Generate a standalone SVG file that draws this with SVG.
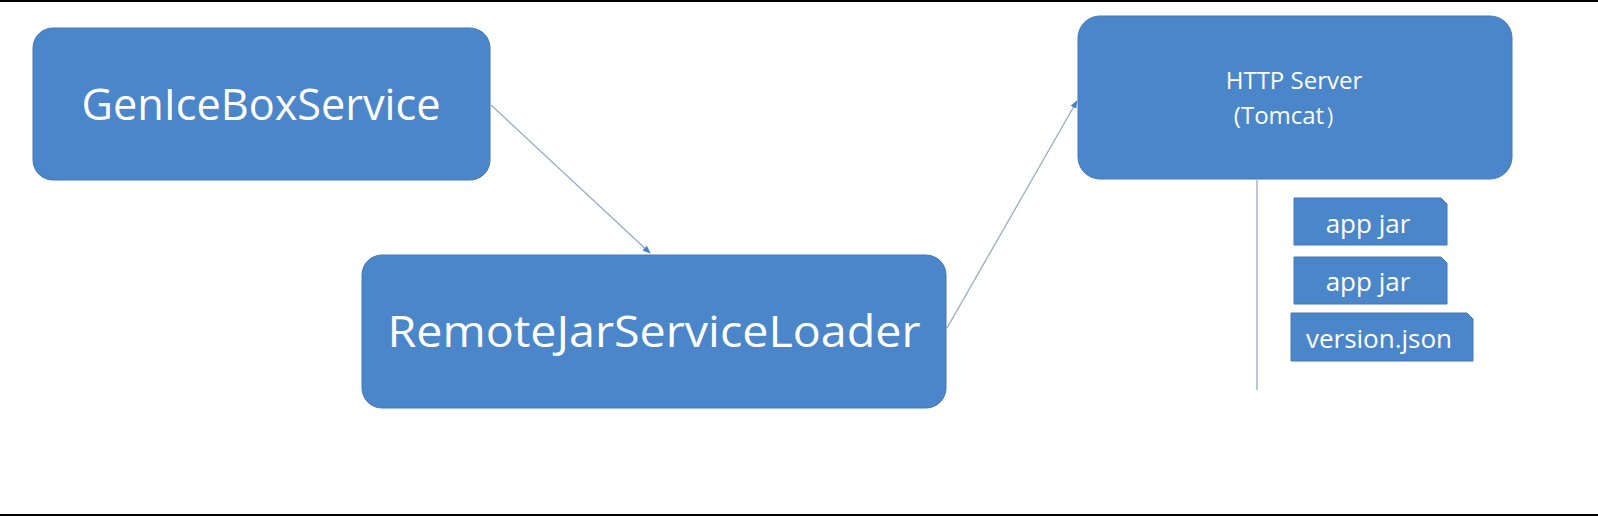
<svg xmlns="http://www.w3.org/2000/svg" width="1598" height="516" viewBox="0 0 1598 516">
<defs>
<style>
.box{fill:#4a86c9;stroke:#4479b8;stroke-width:1}
.file{fill:#4a86c9;stroke:#4479b8;stroke-width:1}
.big{font-family:"Open Sans",sans-serif;font-size:43px;fill:#ffffff;text-anchor:middle}
.mid{font-family:"Open Sans",sans-serif;font-size:24px;fill:#ffffff;text-anchor:middle}
.small{font-family:"Open Sans",sans-serif;font-size:26px;fill:#ffffff;text-anchor:middle}
.conn{stroke:#95abc8;stroke-width:1.3;fill:none}
</style>
<marker id="arr" viewBox="0 0 10 10" refX="9" refY="5" markerWidth="8" markerHeight="8" orient="auto" markerUnits="userSpaceOnUse">
<path d="M0,1 L10,5 L0,9 Z" fill="#4a7fc0"/>
</marker>
</defs>
<rect x="0" y="0" width="1598" height="516" fill="#ffffff"/>
<rect x="0" y="0" width="1598" height="2" fill="#000000"/>
<rect x="0" y="514" width="1598" height="2" fill="#000000"/>
<g id="connectors">
<line class="conn" x1="491" y1="105" x2="650" y2="253" marker-end="url(#arr)"/>
<line class="conn" x1="947" y1="328" x2="1077" y2="101" marker-end="url(#arr)"/>
<line class="conn" x1="1257" y1="180" x2="1257" y2="390"/>
</g>
<g id="genIceBoxService">
<rect class="box" x="33" y="28" width="457" height="152" rx="20"/>
<text class="big" x="261" y="120" textLength="359" lengthAdjust="spacingAndGlyphs">GenIceBoxService</text>
</g>
<g id="remoteJarServiceLoader">
<rect class="box" x="362" y="255" width="584" height="153" rx="20"/>
<text class="big" x="654" y="347" textLength="533" lengthAdjust="spacingAndGlyphs">RemoteJarServiceLoader</text>
</g>
<g id="httpServer">
<rect class="box" x="1078" y="16" width="434" height="163" rx="22"/>
<text class="mid" x="1294" y="89">HTTP Server</text>
<text class="mid" x="1291" y="124">(Tomcat）</text>
</g>
<g id="appJar1">
<path class="file" d="M1294,198 H1441 L1447,204 V245 H1294 Z"/>
<text class="small" x="1368" y="233">app jar</text>
</g>
<g id="appJar2">
<path class="file" d="M1294,257 H1441 L1447,263 V304 H1294 Z"/>
<text class="small" x="1368" y="291">app jar</text>
</g>
<g id="versionJson">
<path class="file" d="M1291,313 H1467 L1473,319 V361 H1291 Z"/>
<text class="small" x="1379" y="348">version.json</text>
</g>
</svg>
